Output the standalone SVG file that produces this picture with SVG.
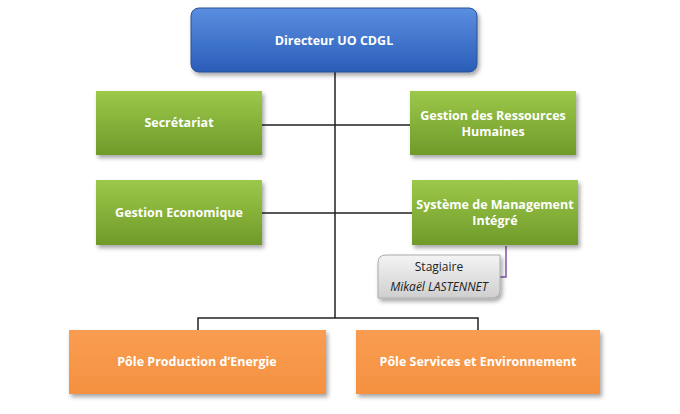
<svg xmlns="http://www.w3.org/2000/svg" width="680" height="414" viewBox="0 0 680 414">
<defs>
<linearGradient id="gb" x1="0" y1="0" x2="0" y2="1"><stop offset="0" stop-color="#5a8ee0"/><stop offset="1" stop-color="#2a5db8"/></linearGradient>
<linearGradient id="gg" x1="0" y1="0" x2="0" y2="1"><stop offset="0" stop-color="#9cc94a"/><stop offset="1" stop-color="#6f9a2a"/></linearGradient>
<linearGradient id="go" x1="0" y1="0" x2="0" y2="1"><stop offset="0" stop-color="#f99d52"/><stop offset="1" stop-color="#f59140"/></linearGradient>
<linearGradient id="gs" x1="0" y1="0" x2="0" y2="1"><stop offset="0" stop-color="#f4f4f4"/><stop offset="1" stop-color="#cfcfcf"/></linearGradient>
<filter id="sh" x="-10%" y="-10%" width="125%" height="130%"><feDropShadow dx="2" dy="3" stdDeviation="2" flood-opacity="0.35"/></filter>
</defs>
<style>
text{font-family:"Open Sans","Liberation Sans",sans-serif;font-size:12.5px;text-anchor:middle;fill:#fff;font-weight:bold}
.s{fill:#222;font-weight:normal;font-size:12px}
.l{stroke:#222;stroke-width:1.5;fill:none}
</style>
<g id="connectors">
<path class="l" d="M335 72V318M262 125H410M262 213H412M198 330V318H478V330"/>
<path d="M500 277H506V246" stroke="#7e57a6" stroke-width="1.5" fill="none"/>
</g>
<g id="directeur"><rect x="191" y="8" width="286" height="64" rx="8" fill="url(#gb)" stroke="#2a4f96" filter="url(#sh)"/><text x="334" y="45" font-size="14">Directeur UO CDGL</text></g>
<g id="secretariat"><rect x="96" y="91" width="166" height="64" fill="url(#gg)" filter="url(#sh)"/><text x="179" y="127">Secrétariat</text></g>
<g id="grh"><rect x="410" y="91" width="166" height="64" fill="url(#gg)" filter="url(#sh)"/><text x="493" y="120">Gestion des Ressources</text><text x="493" y="136">Humaines</text></g>
<g id="geco"><rect x="96" y="180" width="166" height="65" fill="url(#gg)" filter="url(#sh)"/><text x="179" y="217">Gestion Economique</text></g>
<g id="smi"><rect x="412" y="180" width="166" height="65" fill="url(#gg)" filter="url(#sh)"/><text x="495" y="209">Système de Management</text><text x="495" y="225">Intégré</text></g>
<g id="stagiaire"><path d="M386 255H500V290Q500 298 492 298H378V263Q378 255 386 255Z" fill="url(#gs)" stroke="#aaa" filter="url(#sh)"/><text class="s" x="439" y="271">Stagiaire</text><text class="s" x="439" y="291" font-style="italic">Mikaël LASTENNET</text></g>
<g id="pole1"><rect x="69" y="330" width="257" height="64" fill="url(#go)" filter="url(#sh)"/><text x="197" y="366">Pôle Production d’Energie</text></g>
<g id="pole2"><rect x="356" y="330" width="244" height="64" fill="url(#go)" filter="url(#sh)"/><text x="478" y="366">Pôle Services et Environnement</text></g>
</svg>
